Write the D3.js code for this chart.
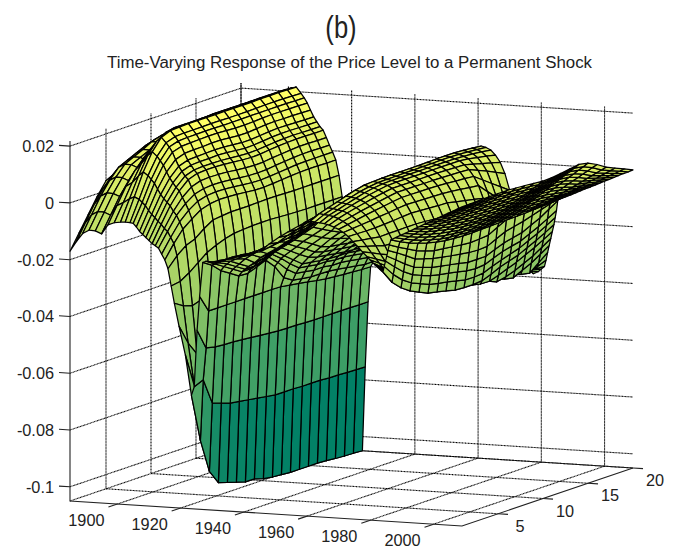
<!DOCTYPE html>
<html><head><meta charset="utf-8">
<script src="https://cdn.jsdelivr.net/npm/d3@7"></script>
<style>html,body{margin:0;padding:0;background:#fff}svg{display:block}</style>
</head><body><svg id="c" width="675" height="553"></svg>
<script>
const chartLetter = "(b)";
const chartTitle = "Time-Varying Response of the Price Level to a Permanent Shock";
const zTicks = [-0.1,-0.08,-0.06,-0.04,-0.02,0,0.02];
const zTickLabels = ["-0.1","-0.08","-0.06","-0.04","-0.02","0","0.02"];
const yearTicks = [1900,1920,1940,1960,1980,2000];
const horizonTicks = [5,10,15,20];
const horizons = [1,2,3,4,5,6,7,8,9,10,11,12,13,14,15,16,17,18,19,20];
const years = [1885,1887,1889,1891,1893,1895,1897,1899,1901,1902.5,
1904,1905,1906,1907,1908,1909,1910,1911,1912,1913,1914,1915,1916,1917,1918,1919.5,1921.5,1923.4,
1924.3,1925.2,1926,1927,1928,1929,1930,1932,1934,1936,1939,1942,1945,1948,1951,1954,1957,1959,
1961,1962.5,1964,1965.5,1967,1968.5,1970,1971.5,1973,1974.5,1976,1977.5,1979,1980,1981,1981.5,1982,1982.5,1983,1983.5,1984,1984.4,1984.8,1985.2,1985.6,1986,1986.5,
1988,1989.5,1991,1992.5,1994,1995.5,1997,1998.5,2000,2001.5,2003,2004.5,2006,2007.5,2009];
const response = [
[-.017,-.0117,-.0064,-.0011,.0035,.005,.0065,.0085,.0095,.01,.0105,.011,.011,.0112,.0115,.0115,.0117,.012,.012,.012],
[-.0135,-.008,-.0025,.002,.0055,.007,.0085,.0105,.0115,.012,.0125,.013,.013,.013,.0132,.0132,.0134,.0135,.0135,.0135],
[-.0105,-.005,.0005,.005,.0085,.01,.0115,.013,.014,.0145,.015,.015,.015,.015,.015,.015,.015,.015,.015,.015],
[-.0092,-.0037,.0018,.0063,.0098,.0113,.0128,.0145,.0155,.016,.016,.016,.016,.0162,.0162,.0163,.0164,.0165,.0165,.0165],
[-.0093,-.0038,.0017,.0062,.0097,.0112,.0127,.0145,.0155,.016,.0165,.0165,.0168,.0168,.017,.017,.017,.017,.017,.017],
[-.0102,-.0047,.0008,.0053,.0088,.0103,.0118,.0135,.0145,.015,.0155,.016,.016,.0162,.0162,.0165,.0165,.0165,.0165,.0165],
[-.0069,-.0012,.0045,.009,.0125,.014,.0155,.017,.018,.0185,.0185,.0185,.0185,.0185,.0185,.0185,.0185,.0185,.0185,.0185],
[-.006,0,.006,.0115,.0155,.017,.0185,.0195,.02,.02,.0203,.0205,.0205,.0205,.0205,.0205,.0205,.0205,.0205,.0205],
[-.0056,.0015,.0085,.0145,.0185,.0205,.0212,.0212,.0212,.0212,.0212,.0212,.0212,.0212,.0212,.0212,.0212,.0212,.0212,.0212],
[-.0055,.0023,.01,.016,.02,.0213,.0215,.0216,.0216,.0216,.0216,.0216,.0216,.0216,.0216,.0217,.0217,.0218,.0217,.0216],
[-.0056,.0015,.0088,.0145,.0182,.0193,.0195,.0195,.0195,.0196,.0196,.0195,.0195,.0195,.0196,.0197,.0197,.0197,.0196,.0195],
[-.0058,.0005,.0075,.013,.0168,.0178,.018,.018,.0181,.0181,.018,.018,.018,.0181,.0181,.0181,.0181,.0181,.018,.018],
[-.007,-.0006,.0062,.0115,.015,.016,.0162,.0163,.0164,.0164,.0162,.016,.016,.0161,.0163,.0164,.0164,.0163,.0163,.0162],
[-.0085,-.0022,.0042,.0092,.0125,.0136,.0138,.0138,.014,.014,.0137,.0134,.0134,.0137,.014,.0141,.014,.014,.0139,.0138],
[-.0095,-.0035,.0024,.0071,.0102,.0113,.0115,.0116,.0117,.0116,.0113,.011,.011,.0113,.0116,.0118,.0117,.0116,.0115,.0115],
[-.0105,-.0046,.001,.0055,.0085,.0096,.0098,.0098,.0099,.0097,.0094,.0091,.0092,.0095,.0098,.01,.01,.0099,.0098,.0098],
[-.0115,-.0058,-.0002,.004,.0069,.008,.0082,.0082,.0081,.0079,.0076,.0074,.0075,.0078,.0081,.0083,.0084,.0083,.0082,.0082],
[-.0125,-.0068,-.0014,.0028,.0057,.0068,.007,.007,.0068,.0065,.0062,.006,.0061,.0065,.0068,.007,.0071,.0071,.007,.007],
[-.0132,-.0082,-.0032,.0006,.0032,.0043,.0045,.0044,.0042,.0038,.0035,.0033,.0034,.0038,.0041,.0044,.0046,.0046,.0045,.0045],
[-.014,-.0092,-.0046,-.0015,.0007,.0016,.0019,.0018,.0015,.0011,.0008,.0007,.0008,.0012,.0015,.0018,.002,.002,.0019,.0019],
[-.016,-.0112,-.0068,-.0038,-.0017,-.0008,-.0005,-.0006,-.0009,-.0013,-.0016,-.0017,-.0015,-.0012,-.0009,-.0006,-.0005,-.0005,-.0005,-.0005],
[-.018,-.0133,-.0093,-.0068,-.0046,-.0036,-.0032,-.0033,-.0035,-.0038,-.0041,-.0042,-.004,-.0037,-.0034,-.0032,-.0031,-.0031,-.0032,-.0032],
[-.021,-.0175,-.015,-.0137,-.0112,-.0092,-.0088,-.0085,-.0085,-.0085,-.0084,-.0083,-.0083,-.0084,-.0085,-.0085,-.0085,-.0085,-.0085,-.0085],
[-.027,-.0265,-.0245,-.022,-.0195,-.018,-.0168,-.016,-.0157,-.0155,-.0154,-.0154,-.0156,-.0158,-.0159,-.016,-.016,-.016,-.016,-.016],
[-.033,-.035,-.036,-.035,-.033,-.031,-.029,-.028,-.027,-.027,-.027,-.027,-.027,-.027,-.027,-.027,-.027,-.027,-.027,-.027],
[-.041,-.048,-.053,-.055,-.054,-.052,-.05,-.048,-.047,-.046,-.046,-.046,-.046,-.046,-.046,-.046,-.046,-.046,-.046,-.046],
[-.051,-.063,-.075,-.081,-.082,-.082,-.08,-.079,-.078,-.077,-.076,-.076,-.076,-.076,-.076,-.076,-.076,-.076,-.076,-.076],
[-.065,-.082,-.094,-.099,-.1,-.101,-.102,-.102,-.103,-.1035,-.1037,-.104,-.104,-.104,-.104,-.1042,-.1045,-.1047,-.1048,-.105],
[-.062,-.0606,-.0698,-.071,-.072,-.0725,-.073,-.0735,-.074,-.0745,-.0745,-.0745,-.0747,-.0747,-.0747,-.075,-.075,-.0752,-.0753,-.0754],
[-.042,-.0493,-.05,-.0503,-.0504,-.0507,-.051,-.0513,-.0516,-.0519,-.052,-.052,-.0522,-.0523,-.0523,-.0523,-.0523,-.0523,-.0524,-.0524],
[-.03,-.0362,-.0362,-.0362,-.0362,-.0362,-.0362,-.0362,-.0362,-.0363,-.0368,-.0373,-.0378,-.0384,-.0389,-.0392,-.0395,-.0397,-.0399,-.04],
[-.018,-.02,-.023,-.025,-.027,-.0272,-.026,-.0247,-.028,-.033,-.035,-.0355,-.036,-.036,-.0361,-.0365,-.037,-.0375,-.038,-.038],
[-.0175,-.0195,-.0215,-.0235,-.0255,-.0255,-.0245,-.0235,-.0265,-.03,-.0325,-.033,-.0335,-.0335,-.034,-.034,-.0345,-.035,-.0355,-.036],
[-.0176,-.019,-.0205,-.0225,-.0245,-.0245,-.0235,-.0225,-.025,-.028,-.0305,-.031,-.0315,-.0315,-.032,-.032,-.0325,-.033,-.0335,-.034],
[-.0177,-.0185,-.0195,-.0215,-.0235,-.023,-.0222,-.0215,-.024,-.0265,-.029,-.0295,-.03,-.0303,-.0305,-.0305,-.031,-.0315,-.032,-.0325],
[-.017,-.0175,-.0185,-.0195,-.022,-.0215,-.0205,-.02,-.0222,-.0245,-.0265,-.0275,-.028,-.0285,-.029,-.0292,-.0295,-.03,-.0305,-.031],
[-.0165,-.0165,-.0175,-.018,-.02,-.0195,-.019,-.0185,-.0205,-.0225,-.0245,-.0255,-.026,-.0265,-.027,-.0272,-.0275,-.028,-.0285,-.029],
[-.016,-.016,-.0165,-.0165,-.0185,-.018,-.0172,-.017,-.0185,-.0205,-.0225,-.0235,-.024,-.0245,-.025,-.0252,-.0255,-.026,-.0265,-.027],
[-.0145,-.015,-.015,-.0145,-.0165,-.0155,-.015,-.0145,-.0162,-.018,-.0195,-.0205,-.0215,-.022,-.0225,-.0228,-.023,-.0235,-.024,-.0245],
[-.0138,-.0138,-.0135,-.0128,-.014,-.013,-.0125,-.012,-.0138,-.0155,-.017,-.018,-.0188,-.0195,-.02,-.0205,-.0208,-.0212,-.0216,-.022],
[-.013,-.0125,-.012,-.0115,-.012,-.0105,-.0095,-.0085,-.0105,-.012,-.0135,-.0145,-.0155,-.016,-.0165,-.017,-.0175,-.018,-.0185,-.019],
[-.01,-.0105,-.0102,-.01,-.0095,-.008,-.0065,-.005,-.007,-.008,-.0095,-.0105,-.0115,-.012,-.0125,-.013,-.0135,-.014,-.0145,-.015],
[-.0075,-.0078,-.0077,-.0075,-.007,-.0055,-.0038,-.0015,-.0035,-.0045,-.006,-.0065,-.0075,-.008,-.0085,-.009,-.0095,-.01,-.0105,-.011],
[-.0053,-.0055,-.0053,-.005,-.004,-.0028,-.0012,.001,-.0005,-.001,-.002,-.0025,-.0035,-.004,-.0045,-.0048,-.005,-.0055,-.006,-.0065],
[-.0032,-.003,-.0027,-.0022,-.0012,0,.0015,.0028,.0025,.0025,.002,.0015,.001,.0005,0,-.0003,-.0006,-.001,-.0015,-.002],
[-.0018,-.0012,-.0008,-.0005,.0008,.002,.0033,.004,.0042,.0045,.0045,.0043,.0042,.004,.0038,.0036,.0034,.0031,.0027,.0022],
[-.0011,.0005,.0015,.0025,.0035,.0045,.0052,.0054,.0055,.0056,.0056,.0056,.0056,.0057,.0058,.0058,.0058,.0056,.0053,.005],
[-.0012,.0003,.0013,.0023,.0032,.0041,.0047,.0051,.0052,.0052,.0053,.0053,.0054,.0054,.0055,.0055,.0054,.0052,.0049,.0046],
[-.0014,.0001,.001,.002,.0029,.0038,.0044,.0048,.0049,.0049,.005,.005,.005,.005,.005,.005,.0048,.0046,.0042,.0038],
[-.0016,-.0002,.0007,.0016,.0024,.0032,.0038,.0043,.0044,.0044,.0044,.0044,.0044,.0044,.0044,.0044,.004,.0034,.0028,.0021],
[-.002,-.0008,.0001,.0009,.0016,.0023,.0029,.0034,.0034,.0034,.0034,.0034,.0034,.0033,.0032,.0031,.0023,.0014,.0006,-.0003],
[-.0026,-.0017,-.0009,-.0002,.0004,.001,.0016,.0021,.0021,.0021,.002,.002,.0019,.0018,.0017,.0015,.0002,-.0012,-.0027,-.0042],
[-.0033,-.0027,-.0021,-.0015,-.001,-.0005,0,.0004,.0004,.0003,.0003,.0002,0,-.0003,-.0005,-.0008,-.0031,-.0054,-.0077,-.01],
[-.0043,-.004,-.0037,-.0034,-.003,-.0027,-.0023,-.002,-.0021,-.0022,-.0023,-.0024,-.0027,-.0031,-.0035,-.0039,-.0071,-.0102,-.0134,-.0166],
[-.0056,-.0057,-.0058,-.0058,-.0056,-.0054,-.0051,-.0049,-.0051,-.0053,-.0055,-.0056,-.0063,-.0069,-.0076,-.0083,-.012,-.0158,-.0195,-.0232],
[-.0073,-.0078,-.0083,-.0088,-.0087,-.0087,-.0086,-.0086,-.0088,-.0091,-.0093,-.0096,-.0104,-.0112,-.012,-.0128,-.017,-.0212,-.0253,-.0295],
[-.0089,-.0099,-.0108,-.0118,-.0119,-.012,-.0122,-.0123,-.0126,-.0129,-.0133,-.0136,-.0146,-.0155,-.0165,-.0174,-.0219,-.0265,-.031,-.0355],
[-.0107,-.0121,-.0136,-.015,-.0154,-.0157,-.0161,-.0164,-.0168,-.0172,-.0176,-.018,-.019,-.02,-.0209,-.0219,-.0261,-.0304,-.0346,-.0388],
[-.0123,-.0142,-.0161,-.018,-.0185,-.0191,-.0196,-.0201,-.0206,-.021,-.0215,-.022,-.0231,-.0243,-.0254,-.0265,-.0295,-.033,-.0365,-.038],
[-.0134,-.0156,-.0179,-.0201,-.0207,-.0214,-.022,-.0226,-.0232,-.0237,-.0243,-.0248,-.026,-.0271,-.0283,-.0294,-.032,-.0345,-.036,-.037],
[-.0145,-.017,-.0195,-.022,-.0228,-.0235,-.0243,-.025,-.0256,-.0262,-.0268,-.0274,-.0285,-.0297,-.0308,-.0319,-.034,-.0355,-.0358,-.036],
[-.015,-.0176,-.0203,-.0229,-.0237,-.0246,-.0254,-.0262,-.0268,-.0274,-.028,-.0286,-.0298,-.0309,-.032,-.0331,-.0345,-.0355,-.035,-.0337],
[-.0154,-.0182,-.021,-.0238,-.0247,-.0256,-.0264,-.0273,-.0279,-.0285,-.0292,-.0298,-.031,-.0328,-.0338,-.0344,-.0355,-.0361,-.0335,-.031],
[-.0159,-.0188,-.0218,-.0247,-.0256,-.0266,-.0275,-.0284,-.029,-.0297,-.0304,-.031,-.0325,-.034,-.035,-.0356,-.034,-.0325,-.0305,-.0285],
[-.0164,-.0195,-.0225,-.0256,-.0266,-.0275,-.0285,-.0295,-.0302,-.0308,-.0315,-.0322,-.0335,-.0348,-.0341,-.033,-.0315,-.03,-.028,-.026],
[-.0169,-.02,-.0232,-.0265,-.0275,-.0285,-.0296,-.0306,-.0313,-.032,-.0327,-.0334,-.0335,-.0325,-.0312,-.03,-.0285,-.027,-.0253,-.0235],
[-.0173,-.022,-.025,-.0272,-.0287,-.0301,-.0308,-.0315,-.0323,-.0325,-.0325,-.0322,-.031,-.0295,-.0285,-.0275,-.026,-.0245,-.0228,-.021],
[-.0153,-.0192,-.0222,-.0243,-.0257,-.027,-.0277,-.0283,-.029,-.0297,-.0298,-.0295,-.0282,-.027,-.026,-.025,-.0235,-.022,-.0203,-.0185],
[-.0134,-.0165,-.0193,-.0214,-.0227,-.0239,-.0246,-.0252,-.0258,-.0265,-.0268,-.0265,-.0252,-.024,-.0232,-.0225,-.021,-.0195,-.0178,-.016],
[-.0116,-.014,-.0165,-.0187,-.0199,-.021,-.0216,-.0222,-.0228,-.0235,-.0235,-.0235,-.0222,-.021,-.0202,-.0195,-.018,-.0165,-.0145,-.0125],
[-.0096,-.0115,-.0136,-.0158,-.0168,-.0178,-.0184,-.019,-.0195,-.02,-.0202,-.02,-.0185,-.017,-.0162,-.0155,-.0145,-.0135,-.0125,-.0115],
[-.0076,-.0095,-.0112,-.0129,-.014,-.015,-.0154,-.0158,-.0162,-.0165,-.0163,-.016,-.0143,-.0127,-.0125,-.0123,-.0121,-.0118,-.0115,-.0113],
[-.0058,-.0075,-.009,-.0102,-.0112,-.012,-.0125,-.0128,-.013,-.013,-.0129,-.0128,-.0127,-.0126,-.0125,-.0124,-.0122,-.012,-.0118,-.0116],
[-.0049,-.0065,-.0079,-.009,-.0099,-.0107,-.0112,-.0114,-.0117,-.0117,-.0116,-.0114,-.0113,-.0112,-.0111,-.0112,-.0111,-.011,-.0109,-.0108],
[-.004,-.0055,-.0068,-.0078,-.0087,-.0094,-.0098,-.0101,-.0103,-.0104,-.0103,-.0101,-.01,-.0098,-.0098,-.0099,-.01,-.01,-.01,-.0101],
[-.0032,-.0045,-.0057,-.0066,-.0074,-.008,-.0085,-.0088,-.009,-.009,-.0089,-.0088,-.0086,-.0084,-.0084,-.0087,-.0089,-.009,-.0092,-.0093],
[-.0023,-.0035,-.0046,-.0054,-.0061,-.0067,-.0071,-.0074,-.0076,-.0077,-.0076,-.0074,-.0072,-.007,-.0071,-.0074,-.0078,-.008,-.0083,-.0085],
[-.0014,-.0025,-.0035,-.0042,-.0049,-.0054,-.0058,-.0061,-.0063,-.0064,-.0063,-.0061,-.0058,-.0056,-.0057,-.0062,-.0067,-.0071,-.0074,-.0077],
[-.0005,-.0015,-.0024,-.003,-.0036,-.0041,-.0045,-.0047,-.005,-.0051,-.0049,-.0047,-.0045,-.0042,-.0044,-.005,-.0056,-.0061,-.0065,-.007],
[.0004,-.0005,-.0012,-.0018,-.0023,-.0028,-.0031,-.0034,-.0036,-.0038,-.0036,-.0034,-.0031,-.0028,-.003,-.0037,-.0045,-.0051,-.0056,-.0062],
[.0012,.0005,-.0002,-.0007,-.0011,-.0014,-.0018,-.002,-.0023,-.0024,-.0023,-.002,-.0017,-.0014,-.0017,-.0025,-.0035,-.0041,-.0048,-.0054],
[.0021,.0015,.001,.0005,.0002,-.0001,-.0004,-.0007,-.0009,-.0011,-.001,-.0007,-.0003,0,-.0003,-.0012,-.0024,-.0031,-.0039,-.0046],
[.003,.0025,.0021,.0017,.0015,.0012,.0009,.0007,.0004,.0002,.0004,.0007,.001,.0014,.001,0,-.0013,-.0021,-.003,-.0039],
[.0039,.0035,.0032,.0029,.0027,.0025,.0022,.002,.0017,.0015,.0017,.002,.0024,.0028,.0024,.0012,-.0002,-.0012,-.0021,-.0031],
[.0048,.0045,.0043,.0041,.004,.0038,.0036,.0034,.0031,.0028,.003,.0034,.0038,.0042,.0037,.0025,.0009,-.0002,-.0012,-.0023],
[.0056,.0055,.0054,.0053,.0053,.0052,.0049,.0047,.0044,.0042,.0044,.0047,.0052,.0056,.0051,.0037,.002,.0008,-.0004,-.0015],
[.0065,.0065,.0065,.0065,.0065,.0065,.0063,.0061,.0058,.0055,.0057,.0061,.0065,.007,.0064,.005,.0031,.0018,.0005,-.0008],
[.0074,.0075,.0076,.0077,.0078,.0078,.0076,.0074,.0071,.0068,.007,.0074,.0079,.0084,.0078,.0062,.0042,.0028,.0014,0]
];

const yearMin=1885, yearMax=2009, hMin=1, hMax=20, zMin=-0.105, zMax=0.0218;
const originX=70, originY=501;
const yearToX=d3.scaleLinear().domain([yearMin,yearMax]).range([0,392]);
const yearToY=d3.scaleLinear().domain([yearMin,yearMax]).range([0,25]);
const hToX=d3.scaleLinear().domain([hMin,hMax]).range([0,171]);
const hToY=d3.scaleLinear().domain([hMin,hMax]).range([0,-58]);
const zToY=d3.scaleLinear().domain([zMin,zMax]).range([0,-360]);
const colorScale=d3.scaleLinear().domain([zMin,zMax]).range(["rgb(0,128,102)","rgb(255,255,102)"]).clamp(true);
const px=(y,h)=>originX+yearToX(y)+hToX(h);
const py=(y,h,z)=>originY+yearToY(y)+hToY(h)+zToY(z);
const P=(y,h,z)=>[px(y,h),py(y,h,z)];
const line=d3.line();
const svg=d3.select("#c");
svg.append("rect").attr("width",675).attr("height",553).attr("fill","#fff");

const dotted=[];
const solid=[];
zTicks.forEach(z=>dotted.push([P(yearMin,hMin,z),P(yearMin,hMax,z),P(yearMax,hMax,z)]));
horizonTicks.forEach(h=>{
  dotted.push([P(yearMin,h,zMax),P(yearMin,h,zMin),P(yearMax,h,zMin)]);
});
yearTicks.forEach(y=>{
  dotted.push([P(y,hMin,zMin),P(y,hMax,zMin),P(y,hMax,zMax)]);
});
dotted.push([P(yearMin,hMin,zMin),P(yearMin,hMax,zMin),P(yearMax,hMax,zMin)]);
dotted.push([P(yearMin,hMax,zMin),P(yearMin,hMax,zMax)]);
solid.push([P(yearMin,hMin,zMax),P(yearMin,hMin,zMin),P(yearMax,hMin,zMin),P(yearMax,hMax,zMin)]);
zTicks.forEach(z=>{const a=P(yearMin,hMin,z);solid.push([a,[a[0]-11,a[1]-0.7]]);});
yearTicks.forEach(y=>{const a=P(y,hMin,zMin);solid.push([a,[a[0]-9,a[1]+3]]);});
horizonTicks.forEach(h=>{const a=P(yearMax,h,zMin);solid.push([a,[a[0]+10,a[1]+0.6]]);});

svg.append("g").selectAll("path").data(dotted).join("path").attr("d",d=>line(d))
  .attr("fill","none").attr("stroke","#000").attr("stroke-width",1.1).attr("stroke-dasharray","1 0.5");
svg.append("g").selectAll("path").data(solid).join("path").attr("d",d=>line(d))
  .attr("fill","none").attr("stroke","#222").attr("stroke-width",1.1);

const cells=[];
for(let j=horizons.length-2;j>=0;j--){
  for(let i=0;i<years.length-1;i++){
    cells.push({pts:[
      P(years[i],horizons[j],response[i][j]),
      P(years[i+1],horizons[j],response[i+1][j]),
      P(years[i+1],horizons[j+1],response[i+1][j+1]),
      P(years[i],horizons[j+1],response[i][j+1])],v:response[i][j]});
  }
}
svg.append("g").selectAll("path").data(cells).join("path")
  .attr("d",d=>line(d.pts)+"Z").attr("fill",d=>colorScale(d.v))
  .attr("stroke","#000").attr("stroke-width",1.25).attr("stroke-linejoin","round");

const font="'Liberation Sans',Arial,sans-serif";
const tc="#222";
svg.append("text").text(chartLetter).attr("transform","translate(341,38) scale(0.8,1)").attr("text-anchor","middle")
  .attr("font-family",font).attr("font-size",32).attr("fill",tc);
svg.append("text").text(chartTitle).attr("x",349.5).attr("y",68).attr("text-anchor","middle")
  .attr("font-family",font).attr("font-size",16).attr("textLength",485).attr("lengthAdjust","spacingAndGlyphs").attr("fill",tc);
svg.append("g").selectAll("text").data(zTicks).join("text")
  .text((d,i)=>zTickLabels[i]).attr("x",54).attr("y",d=>py(yearMin,hMin,d)+6)
  .attr("text-anchor","end").attr("font-family",font).attr("font-size",16.3).attr("fill",tc);
svg.append("g").selectAll("text").data(yearTicks).join("text")
  .text(d=>d).attr("x",d=>px(d,hMin)-31).attr("y",d=>py(d,hMin,zMin)+22)
  .attr("text-anchor","middle").attr("font-family",font).attr("font-size",16.3).attr("fill",tc);
svg.append("g").selectAll("text").data(horizonTicks).join("text")
  .text(d=>d).attr("x",d=>px(yearMax,d)+22).attr("y",d=>py(yearMax,d,zMin)+18)
  .attr("text-anchor","middle").attr("font-family",font).attr("font-size",16.3).attr("fill",tc);
</script></body></html>
